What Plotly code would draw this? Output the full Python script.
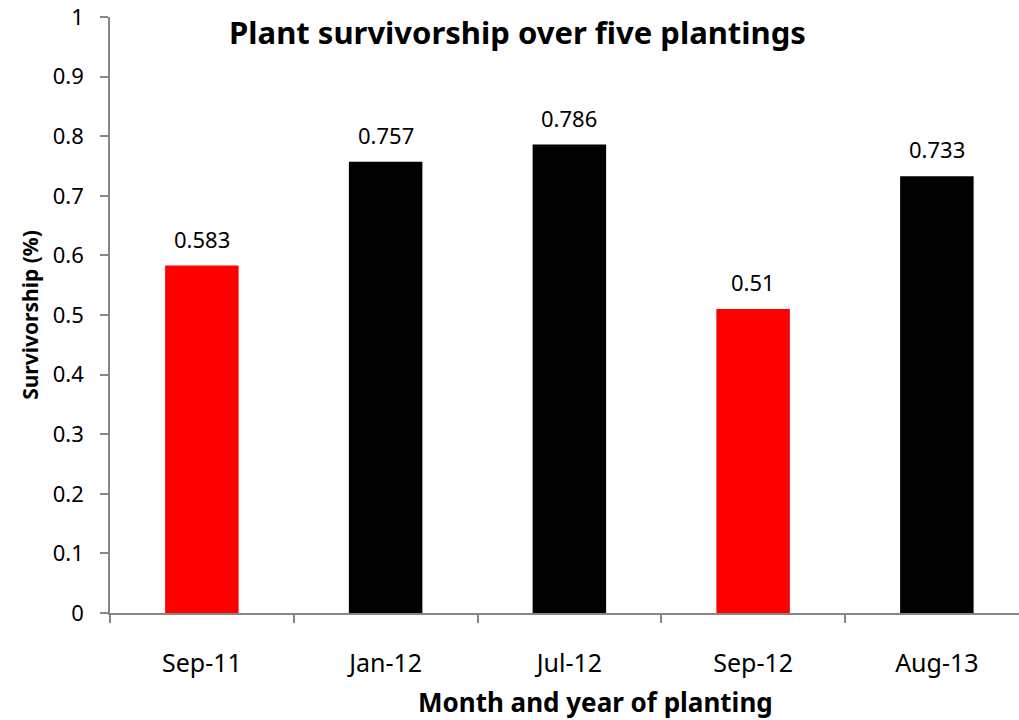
import plotly.graph_objects as go

categories = ["Sep-11", "Jan-12", "Jul-12", "Sep-12", "Aug-13"]
survivorship = [0.583, 0.757, 0.786, 0.51, 0.733]
bar_colors = ["#FF0000", "#000000", "#000000", "#FF0000", "#000000"]
y_ticks = [0, 0.1, 0.2, 0.3, 0.4, 0.5, 0.6, 0.7, 0.8, 0.9, 1]
y_tick_labels = ["0", "0.1", "0.2", "0.3", "0.4", "0.5", "0.6", "0.7", "0.8", "0.9", "1"]

FONT = "Noto Sans"
AXIS_COLOR = "#868686"

fig = go.Figure(
    go.Bar(
        x=categories,
        y=survivorship,
        marker=dict(color=bar_colors, line=dict(width=0)),
        width=0.4,
        cliponaxis=False,
    )
)

label_annotations = [
    dict(
        x=c,
        y=v,
        xref="x",
        yref="y",
        text=f"{v:g}",
        showarrow=False,
        yanchor="bottom",
        xanchor="center",
        yshift=10,
        font=dict(family=FONT, size=22, color="#000000"),
    )
    for c, v in zip(categories, survivorship)
]

fig.update_layout(
    width=1019,
    height=720,
    margin=dict(l=110, r=0, t=17, b=107, autoexpand=False),
    paper_bgcolor="white",
    plot_bgcolor="white",
    showlegend=False,
    font=dict(family=FONT, color="#000000"),
    title=dict(
        text="<b>Plant survivorship over five plantings</b>",
        font=dict(family=FONT, size=31, color="#000000"),
        xref="paper",
        x=(517.5 - 110) / 909,
        xanchor="center",
        yref="container",
        y=1 - 33 / 720,
        yanchor="middle",
    ),
    xaxis=dict(
        type="category",
        range=[-0.5, 4.447],
        automargin=False,
        showline=True,
        linecolor=AXIS_COLOR,
        linewidth=1.5,
        ticks="outside",
        tickson="boundaries",
        ticklen=8,
        tickcolor=AXIS_COLOR,
        tickwidth=1.5,
        tickfont=dict(family=FONT, size=25, color="#000000"),
        ticklabelstandoff=27,
        showgrid=False,
        zeroline=False,
    ),
    yaxis=dict(
        range=[0, 1],
        automargin=False,
        tickvals=y_ticks,
        ticktext=y_tick_labels,
        showline=True,
        linecolor=AXIS_COLOR,
        linewidth=1.5,
        ticks="outside",
        ticklen=8,
        tickcolor=AXIS_COLOR,
        tickwidth=1.5,
        tickfont=dict(family=FONT, size=22, color="#000000"),
        ticklabelstandoff=12,
        ticklabeloverflow="allow",
        showgrid=False,
        zeroline=False,
        title=dict(
            text="<b>Survivorship (%)</b>",
            font=dict(family=FONT, size=21, color="#000000"),
            standoff=8,
        ),
    ),
    annotations=label_annotations + [
        dict(
            text="<b>Month and year of planting</b>",
            xref="paper",
            yref="paper",
            x=(595 - 110) / 909,
            y=-(702 - 613) / 596,
            xanchor="center",
            yanchor="middle",
            showarrow=False,
            font=dict(family=FONT, size=26, color="#000000"),
        )
    ],
)

fig.write_html(
    "out.html",
    config={"displayModeBar": False},
    post_script="document.body.style.margin='0';",
)
